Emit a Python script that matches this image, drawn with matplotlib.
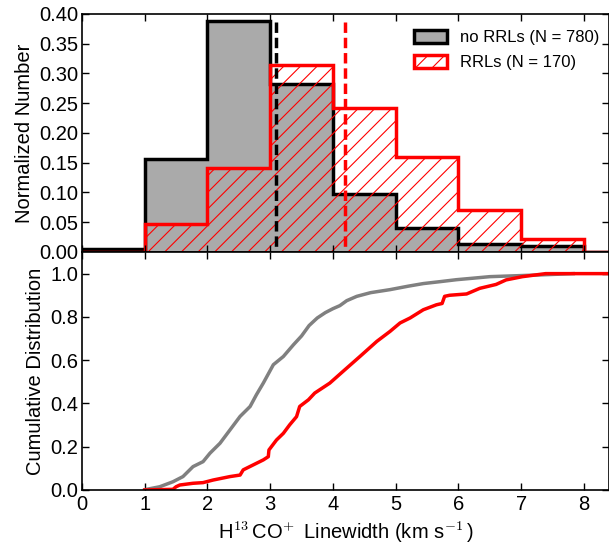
import numpy as np
import matplotlib
matplotlib.use('Agg')
import matplotlib.pyplot as plt
from matplotlib.patches import Patch

plt.rcParams['font.family'] = ['Liberation Sans', 'DejaVu Sans']
plt.rcParams['mathtext.fontset'] = 'cm'
plt.rcParams['hatch.linewidth'] = 0.8

# Histogram bins (km/s) and normalized counts
bin_edges = [0, 1, 2, 3, 4, 5, 6, 7, 8, 9]
no_rrl_frac = [0.005, 0.1565, 0.3887, 0.283, 0.0974, 0.041, 0.013, 0.010, 0.0]
rrl_frac = [0.0, 0.0467, 0.141, 0.314, 0.242, 0.159, 0.0706, 0.0215, 0.0]

# Median linewidths
no_rrl_median = 3.10
rrl_median = 4.20

# Cumulative distributions
no_rrl_cdf_x = [1.0, 1.03, 1.24, 1.45, 1.61, 1.77, 1.93, 2.04, 2.20, 2.36, 2.52, 2.68,
                2.78, 2.89, 3.05, 3.21, 3.37, 3.50, 3.62, 3.75, 3.88, 4.0, 4.11, 4.22,
                4.38, 4.6, 4.91, 5.2, 5.44, 5.71, 5.97, 6.2, 6.5, 6.9, 7.3, 7.83]
no_rrl_cdf_y = [0.0, 0.003, 0.015, 0.038, 0.062, 0.108, 0.131, 0.170, 0.216, 0.278, 0.34, 0.386,
                0.44, 0.494, 0.579, 0.617, 0.671, 0.712, 0.760, 0.795, 0.820, 0.838, 0.852, 0.875,
                0.895, 0.912, 0.926, 0.942, 0.954, 0.963, 0.972, 0.978, 0.986, 0.99, 0.994, 1.0]

rrl_cdf_x = [1.0, 1.45, 1.50, 1.56, 1.77, 1.93, 2.09, 2.36, 2.52, 2.57, 2.73, 2.89, 2.97,
             2.98, 3.10, 3.21, 3.31, 3.42, 3.47, 3.61, 3.71, 3.95, 4.16, 4.43, 4.70,
             4.91, 5.07, 5.23, 5.44, 5.65, 5.74, 5.78, 5.86, 6.13, 6.34, 6.60, 6.76,
             7.02, 7.39, 8.9]
rrl_cdf_y = [0.0, 0.003, 0.015, 0.023, 0.031, 0.034, 0.046, 0.062, 0.069, 0.093, 0.116, 0.139, 0.154,
             0.185, 0.231, 0.262, 0.301, 0.339, 0.386, 0.417, 0.448, 0.494, 0.548, 0.617, 0.687,
             0.733, 0.772, 0.795, 0.833, 0.856, 0.862, 0.895, 0.900, 0.906, 0.932, 0.950, 0.971,
             0.986, 1.0, 1.0]

fig = plt.figure(figsize=(6.09, 5.49), dpi=100)
ax1 = fig.add_axes([0.1346, 0.541, 0.8654, 0.4335])
ax2 = fig.add_axes([0.1346, 0.1075, 0.8654, 0.4335])

# Top: histograms
ax1.stairs(no_rrl_frac, bin_edges, fill=True, facecolor='#aaaaaa', edgecolor='none')
ax1.stairs(no_rrl_frac, bin_edges, color='black', lw=2.5)
ax1.stairs(rrl_frac, bin_edges, fill=True, facecolor='none', edgecolor='red',
           hatch='//', lw=0)
ax1.stairs(rrl_frac, bin_edges, color='red', lw=2.5)
# dashes start from the top, like the reference
ax1.plot([no_rrl_median, no_rrl_median], [0.387, 0], color='black', lw=2.5,
         linestyle=(0, (3, 1.4)))
ax1.plot([rrl_median, rrl_median], [0.387, 0], color='red', lw=2.5,
         linestyle=(0, (3, 1.4)))

handles = [Patch(facecolor='#aaaaaa', edgecolor='black', lw=2.5),
           Patch(facecolor='white', edgecolor='red', hatch='//', lw=2.5)]
ax1.legend(handles, ['no RRLs (N = 780)', 'RRLs (N = 170)'], loc='upper right',
           bbox_to_anchor=(1.0, 0.97), frameon=False, fontsize=12,
           handlelength=2.0, handleheight=0.75, labelspacing=0.6,
           borderaxespad=0.15)

ax1.set_xlim(0, 8.4)
ax1.set_ylim(0, 0.40)
ax1.set_yticks(np.arange(0, 0.41, 0.05))
ax1.set_yticklabels(['%.2f' % v for v in np.arange(0, 0.41, 0.05)])
ax1.set_xticks(range(0, 9))
ax1.set_xticklabels([])
ax1.set_ylabel('Normalized Number', fontsize=14.5)

# Bottom: cumulative distributions
ax2.plot(no_rrl_cdf_x, no_rrl_cdf_y, color='gray', lw=2.5)
ax2.plot(rrl_cdf_x, rrl_cdf_y, color='red', lw=2.5)
ax2.set_xlim(0, 8.4)
ax2.set_ylim(0, 1.1)
ax2.set_yticks([0.0, 0.2, 0.4, 0.6, 0.8, 1.0])
ax2.set_xticks(range(0, 9))
ax2.set_ylabel('Cumulative Distribution', fontsize=14.5)
ax2.set_xlabel(r'H$^{13}\,$CO$^{+}\,$ Linewidth (km s$^{-1}\,$)', fontsize=14.5)

for ax in (ax1, ax2):
    ax.tick_params(direction='in', top=True, right=True, length=5, width=1,
                   labelsize=14.5)
    ax.tick_params(axis='y', pad=2.5)
    for s in ax.spines.values():
        s.set_linewidth(1.2)

fig.savefig('out.png', dpi=100)
